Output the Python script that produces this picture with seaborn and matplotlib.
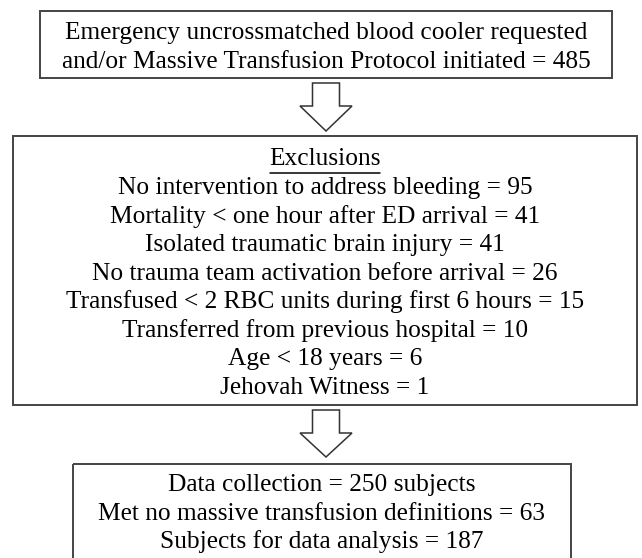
import matplotlib
matplotlib.use("Agg")
import matplotlib.pyplot as plt
import seaborn as sns
from matplotlib.patches import Rectangle, Polygon

# flowchart content
top_lines = ["Emergency uncrossmatched blood cooler requested",
             "and/or Massive Transfusion Protocol initiated = 485"]
excl_title = "Exclusions"
excl_reasons = ["No intervention to address bleeding",
                "Mortality < one hour after ED arrival",
                "Isolated traumatic brain injury",
                "No trauma team activation before arrival",
                "Transfused < 2 RBC units during first 6 hours",
                "Transferred from previous hospital",
                "Age < 18 years",
                "Jehovah Witness"]
excl_counts = [95, 41, 41, 26, 15, 10, 6, 1]
final_lines = ["Data collection = 250 subjects",
               "Met no massive transfusion definitions = 63",
               "Subjects for data analysis = 187"]

sns.set_style("white")
plt.rcParams['font.family'] = ['Liberation Serif', 'DejaVu Serif']

W, H = 642, 558
fig = plt.figure(figsize=(W / 100, H / 100), dpi=100)
ax = fig.add_axes([0, 0, 1, 1])
ax.set_xlim(0, W)
ax.set_ylim(H, 0)
ax.axis('off')

edge = '#444444'
fs = 18.3
line_h = 28.5

# boxes in pixel space: (left, top, right, bottom)
boxes = [(40, 11, 612, 78), (13, 136, 637, 405), (73, 464, 571, 600)]
for l, t, r, b in boxes:
    ax.add_patch(Rectangle((l, t), r - l, b - t, fill=False, ec=edge, lw=1.4))


def hollow_arrow(cx, top, tip, shoulder, shaft_w=27, head_w=52):
    pts = [(cx - shaft_w / 2, top), (cx + shaft_w / 2, top),
           (cx + shaft_w / 2, shoulder), (cx + head_w / 2, shoulder),
           (cx, tip), (cx - head_w / 2, shoulder),
           (cx - shaft_w / 2, shoulder)]
    ax.add_patch(Polygon(pts, closed=True, fill=False, ec='#333333', lw=1.1))


hollow_arrow(326, 83, 131, 106)
hollow_arrow(326, 410, 457, 433)

# top box
for i, s in enumerate(top_lines):
    ax.text(326, 33 + i * 28.5, s, ha='center', va='center', fontsize=fs, color='black')

# exclusions box
t = ax.text(325, 159, excl_title, ha='center', va='center', fontsize=fs, color='black')
for i, (reason, n) in enumerate(zip(excl_reasons, excl_counts)):
    ax.text(325, 188 + i * line_h, f"{reason} = {n}", ha='center', va='center',
            fontsize=fs, color='black')

# underline the Exclusions heading
fig.canvas.draw()
bb = t.get_window_extent().transformed(ax.transData.inverted())
ax.plot([bb.x0 + 1, bb.x1 - 1], [172.5, 172.5], color='black', lw=1.1)

# final box
for i, s in enumerate(final_lines):
    ax.text(322, 485 + i * line_h, s, ha='center', va='center', fontsize=fs, color='black')

fig.savefig("out.png", dpi=100)
